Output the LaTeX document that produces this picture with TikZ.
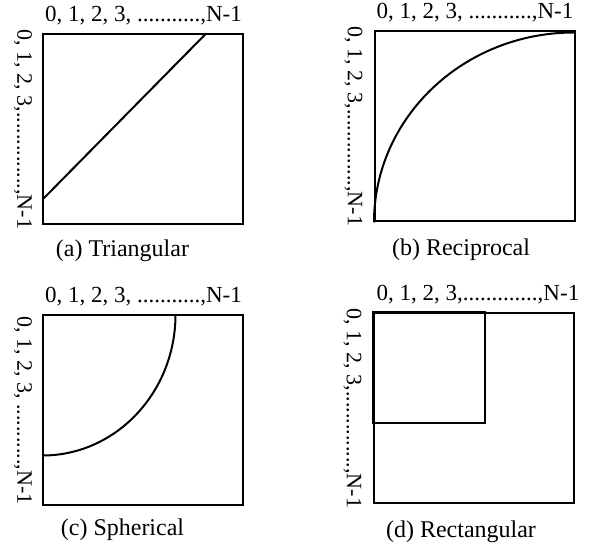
\documentclass[tikz,border=0pt]{standalone}
\usepackage{fontspec}
\setmainfont{Liberation Serif}
\usetikzlibrary{positioning, calc}
\tikzset{
  panel/.style={
    rectangle, draw=black, line width=1pt,
    minimum width=100pt, minimum height=95pt,
    inner sep=0pt
  },
  toplbl/.style  = {font=\fontsize{11.5}{13}\selectfont, inner sep=0pt},
  sidelbl/.style = {font=\fontsize{11}{13}\selectfont, inner sep=0pt,
                    rotate=-90, anchor=north},
  caption/.style = {font=\fontsize{12}{14}\selectfont, inner sep=0pt},
  curve/.style   = {line width=1pt},
}

\begin{document}
\begin{tikzpicture}[x=0.5pt, y=0.5pt]
\useasboundingbox (0,0) rectangle (591,-544);

%% ── Panels ──────────────────────────────────────────────────────────────────
\node[panel] (a) at (143.5,-129.5) {};
\node[panel] (b) at (475,  -126.5) {};
\node[panel] (c) at (143.5,-410.5) {};
\node[panel] (d) at (474,  -408.5) {};

%% ── Column indices (above) ──────────────────────────────────────────────────
\node[toplbl, above=4pt of a.north] (ta) {0, 1, 2, 3, ...........,N-1};
\node[toplbl, above=4pt of b.north] (tb) {0, 1, 2, 3, ...........,N-1};
\node[toplbl, above=4pt of c.north] (tc) {0, 1, 2, 3, ...........,N-1};
\node[toplbl, above=4pt of d.north, xshift=2pt] (td) {0, 1, 2, 3,.............,N-1};

%% ── Row indices (left, rotated) ─────────────────────────────────────────────
\node[sidelbl] (sa) at ([xshift=-5pt]a.west) {0, 1, 2, 3,..............,N-1};
\node[sidelbl] (sb) at ([xshift=-5.5pt]b.west) {0, 1, 2, 3,..............,N-1};
\node[sidelbl] (sc) at ([xshift=-5pt]c.west) {0, 1, 2, 3, ...........,N-1};
\node[sidelbl] (sd) at ([xshift=-5.5pt]d.west) {0, 1, 2, 3,..............,N-1};

%% ── Captions ────────────────────────────────────────────────────────────────
\node[caption, below=7pt of a.south, xshift=-10.5pt] (ca) {(a) Triangular};
\node[caption, below=8pt of b.south, xshift=-7pt]    (cb) {(b) Reciprocal};
\node[caption, below=6pt of c.south, xshift=-10.5pt] (cc) {(c) Spherical};
\node[caption, below=8pt of d.south, xshift=-6.5pt]  (cd) {(d) Rectangular};

%% ── Shapes inside the panels ────────────────────────────────────────────────
\draw[curve] ($(a.north west)!0.865!(a.south west)$)
          -- ($(a.north west)!0.81!(a.north east)$);
\draw[curve] (b.south west) arc[start angle=180, end angle=90,
                                x radius=100pt, y radius=95pt];
\draw[curve] ([xshift=66.5pt]c.north west) arc[start angle=0, end angle=-90,
                                x radius=66.5pt, y radius=70.5pt];
\draw[curve] (d.north west) rectangle ++(56pt,-55.5pt);

\end{tikzpicture}
\end{document}
